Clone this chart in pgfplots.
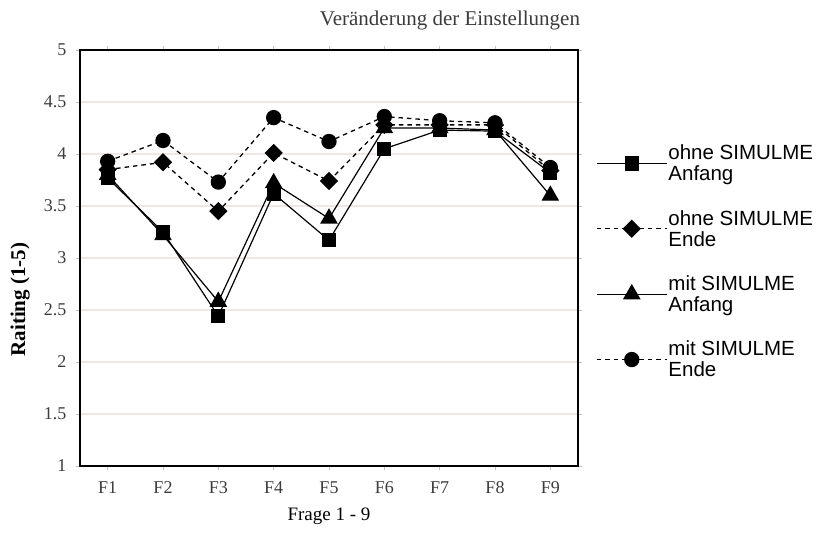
\documentclass[border=0pt]{standalone}
\usepackage{pgfplots}
\pgfplotsset{compat=1.18}
\usepackage{fontspec}
\setmainfont{Liberation Serif}
\setsansfont{Liberation Sans}
\definecolor{gridc}{RGB}{240,230,230}
\definecolor{txt}{RGB}{60,60,60}

\begin{document}
\begin{tikzpicture}
\useasboundingbox (0,0) rectangle (822pt,536pt);
\begin{axis}[
  at={(80pt,70pt)}, anchor=south west,
  scale only axis, width=498pt, height=416pt,
  xmin=0.5, xmax=9.5, ymin=1, ymax=5,
  xtick={1,...,9},
  xticklabels={F1,F2,F3,F4,F5,F6,F7,F8,F9},
  ytick={1,1.5,...,5},
  yticklabels={1,1.5,2,2.5,3,3.5,4,4.5,5},
  ymajorgrids, grid style={gridc, line width=2.5pt},
  axis line style={black, line width=1.6pt},
  tick align=outside, major tick length=4pt,
  tick style={gray!50, line width=0.6pt},
  ticklabel style={font=\fontsize{18}{21}\selectfont, text=txt},
  xticklabel style={yshift=-8pt},
  yticklabel style={xshift=-6pt},
  xlabel={Frage 1 - 9},
  xlabel style={font=\fontsize{19}{22}\selectfont, text=black, at={(axis description cs:0.5,-0.092)}, anchor=north},
  ylabel={Raiting (1-5)},
  ylabel style={font=\bfseries\fontsize{21}{24}\selectfont, at={(axis description cs:-0.12,0.40)}, anchor=center},
  legend style={at={(axis description cs:1.036,0.775)}, anchor=north west,
    draw=none, fill=none, inner sep=0pt, row sep=26pt,
    font=\sffamily\fontsize{20.5}{21}\selectfont,
    nodes={align=left, inner sep=1pt}},
  legend cell align=left,
  legend image code/.code={\draw[mark repeat=2,mark phase=2] plot coordinates {(0pt,0pt) (35pt,0pt) (70pt,0pt)};},
]
\addplot[black, line width=1.2pt, mark=square*, mark size=6.5pt, mark options={solid}] coordinates {
  (1,3.77) (2,3.25) (3,2.44) (4,3.62) (5,3.17) (6,4.05) (7,4.23) (8,4.22) (9,3.82)};
\addlegendentry{ohne SIMULME\\Anfang}
\addplot[black, line width=1.3pt, dash pattern=on 4.5pt off 4pt, mark=square*, mark size=5.8pt, mark options={solid, rotate=45}] coordinates {
  (1,3.85) (2,3.92) (3,3.45) (4,4.01) (5,3.74) (6,4.28) (7,4.28) (8,4.28) (9,3.84)};
\addlegendentry{ohne SIMULME\\Ende}
\addplot[black, line width=1.2pt, mark=triangle*, mark size=9pt, mark options={solid}] coordinates {
  (1,3.80) (2,3.22) (3,2.58) (4,3.72) (5,3.38) (6,4.25) (7,4.25) (8,4.23) (9,3.60)};
\addlegendentry{mit SIMULME\\Anfang}
\addplot[black, line width=1.3pt, dash pattern=on 4.5pt off 4pt, mark=*, mark size=7pt, mark options={solid}] coordinates {
  (1,3.93) (2,4.13) (3,3.73) (4,4.35) (5,4.12) (6,4.36) (7,4.32) (8,4.30) (9,3.87)};
\addlegendentry{mit SIMULME\\Ende}
\end{axis}
\node[font=\fontsize{21}{24}\selectfont, text=txt] at (450pt,516pt) {Veränderung der Einstellungen};
\end{tikzpicture}
\end{document}
